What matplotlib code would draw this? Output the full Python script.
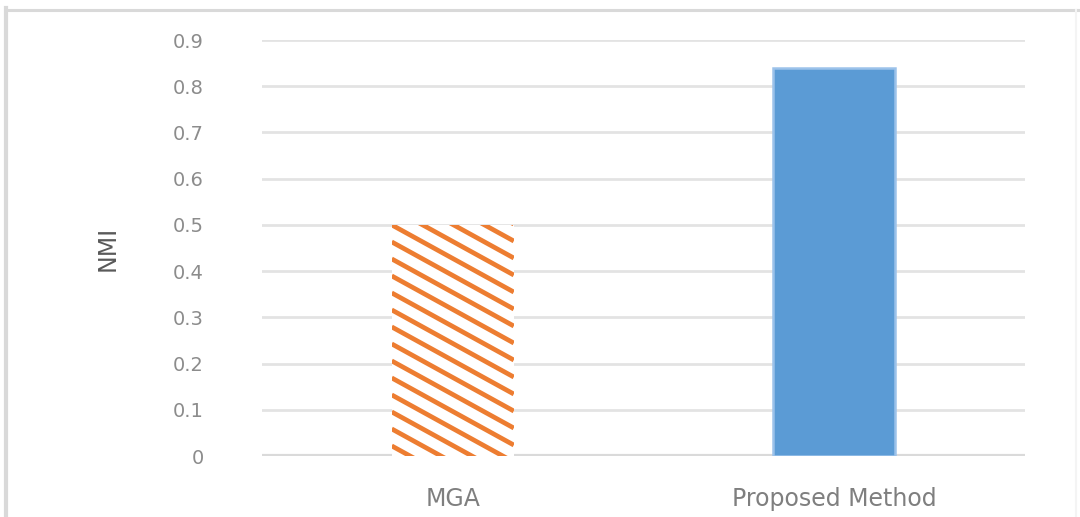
import matplotlib
matplotlib.use("Agg")
import matplotlib.pyplot as plt
import numpy as np
from matplotlib.lines import Line2D

methods = ["MGA", "Proposed Method"]
nmi = [0.50, 0.84]
yticks = [0, 0.1, 0.2, 0.3, 0.4, 0.5, 0.6, 0.7, 0.8, 0.9]
ylabels = ["0", "0.1", "0.2", "0.3", "0.4", "0.5", "0.6", "0.7", "0.8", "0.9"]

orange = "#ED7D31"
blue = "#5B9BD5"

fig = plt.figure(figsize=(10.8, 5.17), dpi=100)
ax = fig.add_axes([262 / 1080, 61 / 517, 763 / 1080, 416 / 517])

x = np.arange(len(methods))
bars = ax.bar(x, nmi, width=0.32, zorder=3)
mga, prop = bars.patches
mga.set_facecolor("white")
mga.set_edgecolor("none")
prop.set_facecolor(blue)
prop.set_edgecolor("#9cc2ea")
prop.set_linewidth(1.8)

ax.set_xlim(-0.5, 1.5)
ax.set_ylim(0, 0.9)
ax.set_yticks(yticks)
ax.set_yticklabels(ylabels)
ax.set_xticks(x)
ax.set_xticklabels(methods)

ax.grid(axis="y", color="#e3e3e3", linewidth=2, zorder=0)
ax.set_axisbelow(True)
for s in ax.spines.values():
    s.set_visible(False)
ax.axhline(0, color="#dadada", linewidth=3, zorder=2)

ax.tick_params(axis="y", length=0, pad=42, labelsize=14, labelcolor="#8c8c8c")
ax.tick_params(axis="x", length=0, pad=22, labelsize=17, labelcolor="#7f7f7f")
ax.set_ylabel("NMI", fontsize=17, color="#595959", labelpad=38)

# diagonal hatching on the MGA bar, built in pixel space
fig.canvas.draw()
bb = mga.get_window_extent()
slope = 0.55
step = 17.0
drop = slope * bb.width
inv = ax.transData.inverted()
n_up = int(np.ceil(drop / step))
c = bb.y1 + n_up * step
while c > bb.y0 - step:
    p0 = (bb.x0, c)
    p1 = (bb.x1, c - drop)
    d = inv.transform([p0, p1])
    ln, = ax.plot(d[:, 0], d[:, 1], color=orange, linewidth=3.4,
                  solid_capstyle="butt", zorder=4)
    ln.set_clip_path(mga)
    c -= step

# chart frame
fig.add_artist(Line2D([6 / 1080, 6 / 1080], [0, 1 - 8 / 517],
                      transform=fig.transFigure, color="#d9d9d9", linewidth=3))
fig.add_artist(Line2D([6 / 1080, 1], [1 - 9.5 / 517, 1 - 9.5 / 517],
                      transform=fig.transFigure, color="#d9d9d9", linewidth=2.2))
fig.add_artist(Line2D([1076 / 1080, 1076 / 1080], [0, 1 - 9.5 / 517],
                      transform=fig.transFigure, color="#f4f4f4", linewidth=1.5))

fig.savefig("out.png", dpi=100)
